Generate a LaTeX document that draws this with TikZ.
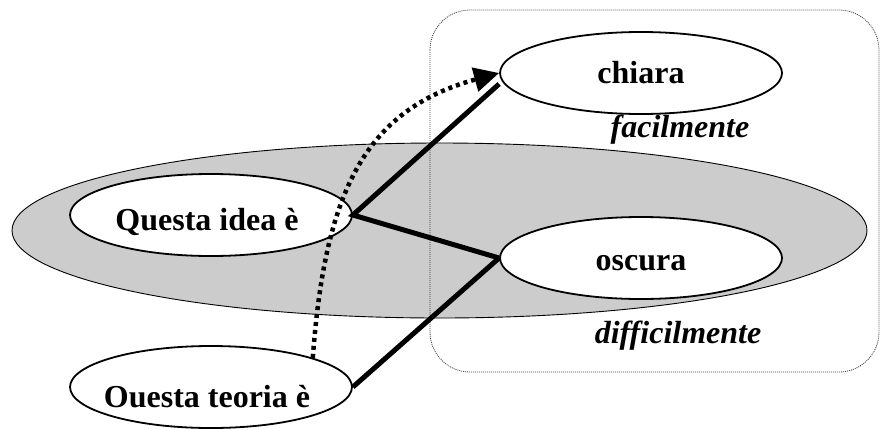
\documentclass[tikz,border=0pt]{standalone}
\usepackage{fontspec}
\setmainfont{Liberation Serif}
\usetikzlibrary{shapes.geometric,arrows.meta}
\begin{document}
\begin{tikzpicture}[x=1pt,y=-1pt,
  oval/.style={ellipse,draw=black,line width=1.8pt,fill=white,minimum width=282pt,minimum height=82pt,inner sep=0pt},
  zone/.style={ellipse,draw=black,line width=0.9pt,fill=black!20,minimum width=855pt,minimum height=175pt,inner sep=0pt},
  frame/.style={draw=black!75,line width=0.8pt,dash pattern=on 1pt off 1pt,rounded corners=40pt},
  word/.style={font=\fontsize{32}{38}\selectfont\bfseries,inner sep=0pt,anchor=base},
  adv/.style={font=\fontsize{32}{38}\selectfont\bfseries\itshape,inner sep=0pt,anchor=base},
  link/.style={line width=5pt,line cap=butt},
  dotlink/.style={line width=4.5pt,dash pattern=on 4pt off 4pt,-{Triangle[length=25pt,width=24pt]}}
]
\useasboundingbox (0,0) rectangle (880,429);
\node[zone] (area) at (439.5,230.5) {};
\draw[frame] (430,10) rectangle (879,372);
\node[oval] (idea) at (211,215) {};
\node[oval] (teoria) at (211,387) {};
\node[oval] (chiara) at (641,73) {};
\node[oval] (oscura) at (641,258) {};
\draw[link] ([yshift=-11pt]chiara.west) -- (idea.east) -- (oscura.west);
\draw[link] (teoria.east) -- (oscura.west);
\draw[dotlink] (teoria.16) .. controls (325,193) and (364,110) .. (chiara.west);
\node[word] (tidea) at (207,230) {Questa idea è};
\node[word] (tteoria) at (207,407) {Ouesta teoria è};
\node[word] (tchiara) at (641,83) {chiara};
\node[word] (toscura) at (641,270) {oscura};
\node[adv] (facil) at (680,137) {facilmente};
\node[adv] (diffic) at (678,343) {difficilmente};
\end{tikzpicture}
\end{document}
